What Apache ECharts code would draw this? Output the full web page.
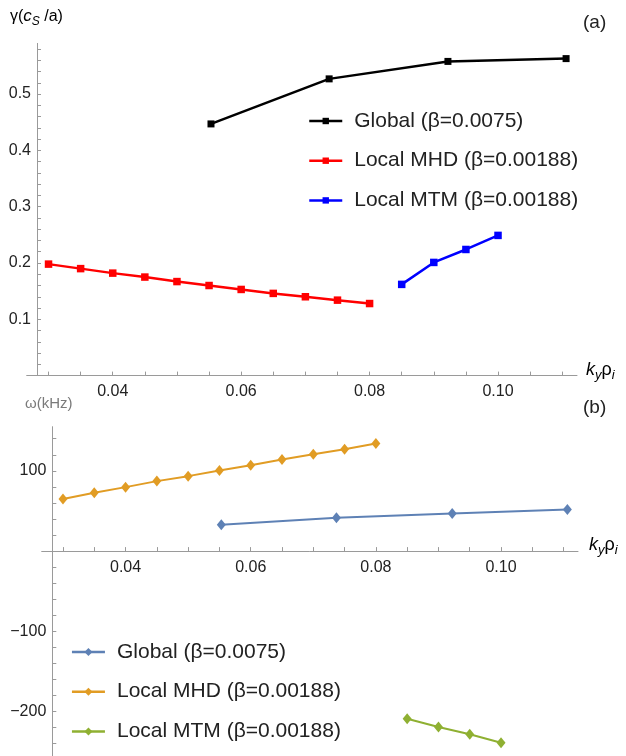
<!DOCTYPE html>
<html>
<head>
<meta charset="utf-8">
<script src="https://cdn.jsdelivr.net/npm/echarts@6/dist/echarts.min.js"></script>
<style>html,body{margin:0;padding:0;background:#fff;}#c{width:626px;height:756px;}</style>
</head>
<body>
<div id="c"></div>
<script>
// ---- data ----
const globalK = [0.0553, 0.0737, 0.0922, 0.1106];
const globalGamma = [0.447, 0.527, 0.558, 0.563];
const globalOmega = [32.8, 41.5, 46.9, 51.9];
const mhdK = [0.03, 0.035, 0.04, 0.045, 0.05, 0.055, 0.06, 0.065, 0.07, 0.075, 0.08];
const mhdGamma = [0.198, 0.190, 0.182, 0.175, 0.167, 0.160, 0.153, 0.146, 0.140, 0.134, 0.128];
const mhdOmega = [64.8, 72.6, 79.7, 87.2, 93.4, 100.5, 107.1, 114.2, 120.8, 127.0, 134.1];
const mtmK = [0.085, 0.09, 0.095, 0.10];
const mtmGamma = [0.162, 0.201, 0.224, 0.249];
const mtmOmega = [-208.8, -219.2, -228.3, -238.7];
const seriesNames = ['Global (β=0.0075)', 'Local MHD (β=0.00188)', 'Local MTM (β=0.00188)'];
// ---- ticks ----
const xLabelValues = [0.04, 0.06, 0.08, 0.10];
const xTickValues = [0.03, 0.035, 0.04, 0.045, 0.05, 0.055, 0.06, 0.065, 0.07, 0.075, 0.08, 0.085, 0.09, 0.095, 0.10, 0.105, 0.11];
const gammaLabelValues = [0.1, 0.2, 0.3, 0.4, 0.5];
const gammaTickValues = [0.02, 0.04, 0.06, 0.08, 0.1, 0.12, 0.14, 0.16, 0.18, 0.2, 0.22, 0.24, 0.26, 0.28, 0.3, 0.32, 0.34, 0.36, 0.38, 0.4, 0.42, 0.44, 0.46, 0.48, 0.5, 0.52, 0.54, 0.56, 0.58];
const omegaLabelValues = [-200, -100, 100];
const omegaTickValues = [-240, -220, -200, -180, -160, -140, -120, -100, -80, -60, -40, -20, 20, 40, 60, 80, 100, 120, 140];

const zip = (a, b) => a.map((v, i) => [v, b[i]]);
const FONT = 'Arial, "Liberation Sans", sans-serif';
const AXIS_COLOR = '#9a9a9a';
const LABEL_COLOR = '#222';
const NAME_COLOR = '#7a7a7a';

const OMEGA_MIN = -255.3, OMEGA_MAX = 155;
const GRID2_TOP = 426.7, CANVAS_H = 756;

function xAxisCfg(gridIndex, offset) {
  return {
    type: 'value', gridIndex, min: 0.0266, max: 0.1123, position: 'bottom', offset,
    axisLine: { onZero: false, lineStyle: { color: AXIS_COLOR, width: 1 } },
    axisTick: { inside: true, length: 4, customValues: xTickValues, lineStyle: { color: AXIS_COLOR } },
    axisLabel: { customValues: xLabelValues, formatter: v => v.toFixed(2), color: LABEL_COLOR, fontSize: 16, fontFamily: FONT, margin: 8 },
    splitLine: { show: false }
  };
}
// move the lower panel's x axis up to omega = 0 (axis crosses at zero, as in the reference)
const grid2H = CANVAS_H - GRID2_TOP;
const zeroOffset = -grid2H * (0 - OMEGA_MIN) / (OMEGA_MAX - OMEGA_MIN);

const chart = echarts.init(document.getElementById('c'), null, { renderer: 'canvas' });
const subRich = {
  n: { fontSize: 16, color: NAME_COLOR, fontFamily: FONT, lineHeight: 22, verticalAlign: 'middle' },
  i: { fontSize: 17, color: NAME_COLOR, fontFamily: FONT, fontStyle: 'italic', lineHeight: 22, verticalAlign: 'middle' },
  s: { fontSize: 12, color: NAME_COLOR, fontFamily: FONT, fontStyle: 'italic', verticalAlign: 'bottom' }
};
const kRich = {
  i: { fontSize: 18, color: NAME_COLOR, fontFamily: FONT, fontStyle: 'italic', lineHeight: 24, verticalAlign: 'middle' },
  n: { fontSize: 18, color: NAME_COLOR, fontFamily: FONT, lineHeight: 24, verticalAlign: 'middle' },
  s: { fontSize: 13, color: NAME_COLOR, fontFamily: FONT, fontStyle: 'italic', verticalAlign: 'bottom' }
};

const option = {
  animation: false,
  backgroundColor: '#fff',
  grid: [
    { left: 26.7, right: 49, top: 43.4, bottom: 380.4, outerBoundsMode: 'none', containLabel: false },
    { left: 41.7, right: 48, top: GRID2_TOP, bottom: 0, outerBoundsMode: 'none', containLabel: false }
  ],
  xAxis: [xAxisCfg(0, 0), xAxisCfg(1, zeroOffset)],
  yAxis: [
    {
      type: 'value', gridIndex: 0, min: 0, max: 0.59, offset: -10.3,
      axisLine: { show: true, onZero: false, lineStyle: { color: AXIS_COLOR, width: 1 } },
      axisTick: { show: true, inside: true, length: 4, customValues: gammaTickValues, lineStyle: { color: AXIS_COLOR } },
      axisLabel: { customValues: gammaLabelValues, formatter: v => v.toFixed(1), color: LABEL_COLOR, fontSize: 16, fontFamily: FONT, margin: 6 },
      splitLine: { show: false }
    },
    {
      type: 'value', gridIndex: 1, min: OMEGA_MIN, max: OMEGA_MAX, offset: -10.6,
      axisLine: { show: true, onZero: false, lineStyle: { color: AXIS_COLOR, width: 1 } },
      axisTick: { show: true, inside: true, length: 4, customValues: omegaTickValues, lineStyle: { color: AXIS_COLOR } },
      axisLabel: { customValues: omegaLabelValues, formatter: v => (v < 0 ? '\u2212' + Math.abs(v) : String(v)), color: LABEL_COLOR, fontSize: 16, fontFamily: FONT, margin: 6 },
      splitLine: { show: false }
    }
  ],
  legend: [
    {
      orient: 'vertical', left: 308, top: 110.5, padding: 0, itemWidth: 33, itemHeight: 8, itemGap: 18.7,
      data: seriesNames,
      lineStyle: { width: 2.5 },
      textStyle: { fontSize: 21, lineHeight: 21, color: LABEL_COLOR, fontFamily: FONT, padding: [0, 0, 0, 7] }
    },
    {
      orient: 'vertical', left: 70.7, top: 641.5, padding: 0, itemWidth: 33, itemHeight: 10, itemGap: 18.7,
      data: seriesNames.map(n => n + ' [b]'),
      formatter: n => n.replace(' [b]', ''),
      lineStyle: { width: 2.5 },
      textStyle: { fontSize: 21, lineHeight: 21, color: LABEL_COLOR, fontFamily: FONT, padding: [0, 0, 0, 7] }
    }
  ],
  series: [
    { name: seriesNames[0], type: 'line', xAxisIndex: 0, yAxisIndex: 0, data: zip(globalK, globalGamma), symbol: 'rect', symbolSize: 7, color: '#000', lineStyle: { width: 2.5, color: '#000' } },
    { name: seriesNames[1], type: 'line', xAxisIndex: 0, yAxisIndex: 0, data: zip(mhdK, mhdGamma), symbol: 'rect', symbolSize: 7.5, color: '#ff0000', lineStyle: { width: 2.5, color: '#ff0000' } },
    { name: seriesNames[2], type: 'line', xAxisIndex: 0, yAxisIndex: 0, data: zip(mtmK, mtmGamma), symbol: 'rect', symbolSize: 7.5, color: '#0000ff', lineStyle: { width: 2.5, color: '#0000ff' } },
    { name: seriesNames[0] + ' [b]', type: 'line', xAxisIndex: 1, yAxisIndex: 1, data: zip(globalK, globalOmega), symbol: 'diamond', symbolSize: [9, 11], color: '#5E81B5', lineStyle: { width: 2, color: '#5E81B5' } },
    { name: seriesNames[1] + ' [b]', type: 'line', xAxisIndex: 1, yAxisIndex: 1, data: zip(mhdK, mhdOmega), symbol: 'diamond', symbolSize: [9, 11], color: '#E19C24', lineStyle: { width: 2, color: '#E19C24' } },
    { name: seriesNames[2] + ' [b]', type: 'line', xAxisIndex: 1, yAxisIndex: 1, data: zip(mtmK, mtmOmega), symbol: 'diamond', symbolSize: [9, 11], color: '#8FB032', lineStyle: { width: 2, color: '#8FB032' } }
  ],
  graphic: [
    { type: 'text', left: 10, top: 8, style: { text: '{n|γ(}{i|c}{s|S}{n| /a)}', rich: subRich } },
    { type: 'text', left: 25, top: 396, style: { text: 'ω(kHz)', fontSize: 15, fill: NAME_COLOR, fontFamily: FONT } },
    { type: 'text', left: 586, top: 361, style: { text: '{i|k}{s|y}{n|ρ}{s|i}', rich: kRich } },
    { type: 'text', left: 589, top: 536, style: { text: '{i|k}{s|y}{n|ρ}{s|i}', rich: kRich } },
    { type: 'text', left: 583, top: 13, style: { text: '(a)', fontSize: 19, fill: LABEL_COLOR, fontFamily: FONT } },
    { type: 'text', left: 583, top: 398, style: { text: '(b)', fontSize: 19, fill: LABEL_COLOR, fontFamily: FONT } }
  ]
};
chart.setOption(option);
</script>
</body>
</html>
